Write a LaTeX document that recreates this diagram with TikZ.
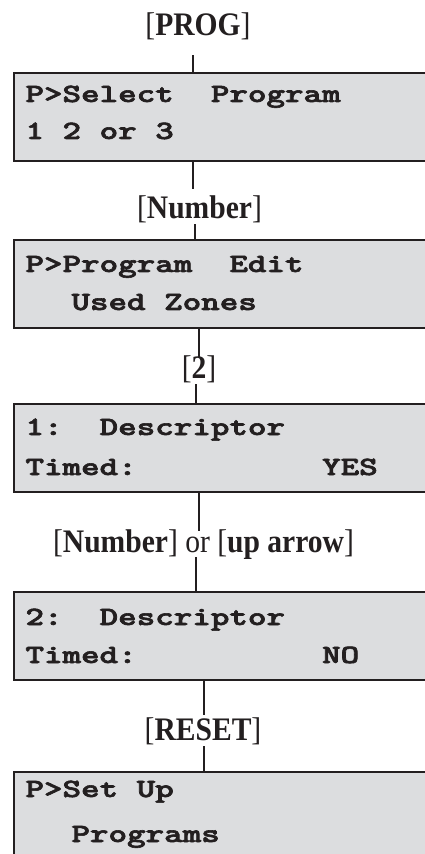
\documentclass[tikz,border=0pt]{standalone}
\usepackage{fontspec}
\setmainfont{Liberation Serif}
\newfontfamily\lcdfont{lmmonolt10-bold.otf}[FakeBold=2.2]

\definecolor{lcdgray}{HTML}{DCDDDF}
\definecolor{ink}{HTML}{231F20}

\tikzset{
  screen/.style={draw=ink, fill=lcdgray, line width=1.3pt, outer sep=0pt,
                 anchor=north west, minimum width=9cm, minimum height=1.76cm},
  lcd/.style={font=\lcdfont\fontsize{15}{18}\selectfont, text=ink,
              xscale=1.34, anchor=base west, inner sep=0pt},
  key/.style={font=\fontsize{18.7}{22}\selectfont, text=ink,
              xscale=0.9, anchor=base, inner sep=0pt},
  wire/.style={draw=ink, line width=1.1pt},
}

\begin{document}
\begin{tikzpicture}[x=0.02cm, y=-0.02cm]

% ----------------- Frame (pixel grid of the page) -----------------
\useasboundingbox (0,0) rectangle (424,854);

\def\bx{14}     % left edge of the screens
\def\tx{25}     % left edge of the screen text
\def\ix{71}     % indented second lines

% ----------------- Screens -----------------
\node[screen] (s1) at (\bx,73)  {};
\node[screen] (s2) at (\bx,240) {};
\node[screen] (s3) at (\bx,404) {};
\node[screen] (s4) at (\bx,592) {};
\node[screen] (s5) at (\bx,772) {};

% ----------------- Screen text -----------------
\node[lcd] (t1a) at (\tx,102) {P>Select~~Program};
\node[lcd] (t1b) at (\tx,139) {1 2 or 3};

\node[lcd] (t2a) at (\tx,272) {P>Program~~Edit};
\node[lcd] (t2b) at (\ix,310) {Used Zones};

\node[lcd] (t3a) at (\tx,435) {1:~~Descriptor};
\node[lcd] (t3b) at (\tx,475) {Timed:~~~~~~~~~~YES};

\node[lcd] (t4a) at (\tx,625) {2:~~Descriptor};
\node[lcd] (t4b) at (\tx,663) {Timed:~~~~~~~~~~NO};

\node[lcd] (t5a) at (\tx,797) {P>Set Up};
\node[lcd] (t5b) at (\ix,842) {Programs};

% ----------------- Key labels -----------------
\node[key] (prog)  at (198,36)    {[\textbf{PROG}]};
\node[key] (num)   at (199.5,219) {[\textbf{Number}]};
\node[key] (two)   at (199,378)   {[\textbf{2}]};
\node[key] (numup) at (203.5,552) {[\textbf{Number}] or [\textbf{up arrow}]};
\node[key] (reset) at (203,740)   {[\textbf{RESET}]};

% ----------------- Connectors -----------------
\draw[wire] (s1.north -| prog)  ++(-5,0)   -- ++(0,-18);
\draw[wire] (s1.south -| num)   ++(-6.5,0) -- ++(0,28);
\draw[wire] (s2.north -| num)   ++(-4.5,0) -- ++(0,-16);
\draw[wire] (s2.south -| two)               -- ++(0,30);
\draw[wire] (s3.north -| two)   ++(-3,0)   -- ++(0,-20);
\draw[wire] (s3.south -| numup) ++(-4.5,0) -- ++(0,39);
\draw[wire] (s4.north -| numup) ++(-7.5,0) -- ++(0,-35);
\draw[wire] (s4.south -| reset) ++(1,0)    -- ++(0,35);
\draw[wire] (s5.north -| reset) ++(1,0)    -- ++(0,-26);

\end{tikzpicture}
\end{document}
